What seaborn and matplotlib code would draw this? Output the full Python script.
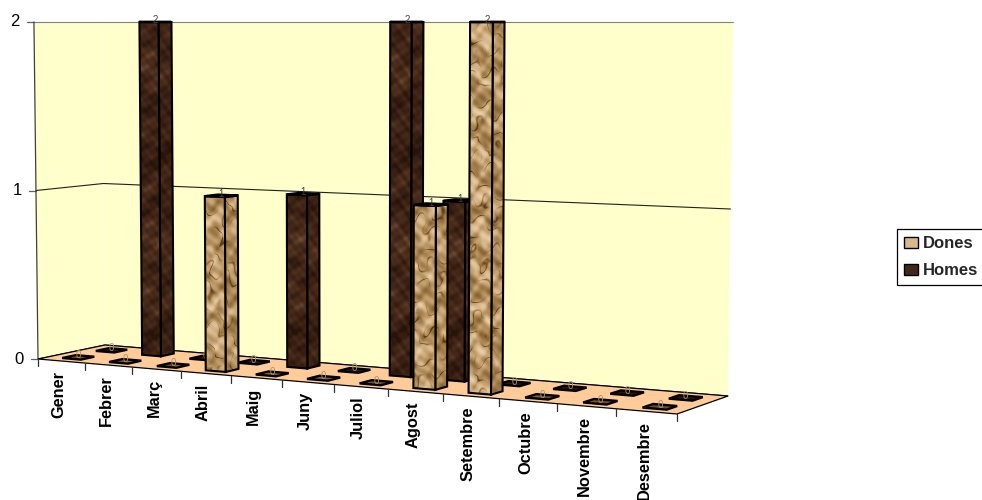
import numpy as np
import pandas as pd
import matplotlib
matplotlib.use("Agg")
import matplotlib.pyplot as plt
from matplotlib.patches import Patch, Polygon
import seaborn as sns

months = ["Gener", "Febrer", "Març", "Abril", "Maig", "Juny", "Juliol", "Agost",
          "Setembre", "Octubre", "Novembre", "Desembre"]
dones = [0, 0, 0, 1, 0, 0, 0, 1, 2, 0, 0, 0]
homes = [0, 2, 0, 0, 1, 0, 2, 1, 0, 0, 0, 0]
y_ticks = [0, 1, 2]

sns.set_theme(style="white")
plt.rcParams["font.family"] = ["Liberation Sans", "DejaVu Sans"]

W, H = 982, 500
fig = plt.figure(figsize=(W / 100, H / 100), dpi=100)
ax = fig.add_axes([0, 0, 1, 1])
ax.set_xlim(0, W)
ax.set_ylim(H, 0)
ax.set_autoscale_on(False)
ax.axis("off")

# floor corners in the picture: front left, front right, back right, back left
floor_px = np.array([[38, 359], [677, 414], [728, 396], [105, 345]], dtype=float)
floor_uv = np.array([[0, 0], [1, 0], [1, 1], [0, 1]], dtype=float)
TOP_Y = 22
ZMAX = 2

a = []
b = []
for (u, w), (x, y) in zip(floor_uv, floor_px):
    a.append([u, w, 1, 0, 0, 0, -u * x, -w * x])
    a.append([0, 0, 0, u, w, 1, -u * y, -w * y])
    b += [x, y]
h = np.append(np.linalg.solve(np.array(a), np.array(b)), 1).reshape(3, 3)


def project(u, w, z=0):
    u = u - 0.004 * np.sin(np.pi * u)
    d = h @ np.array([u, w, 1.0])
    x, y = d[0] / d[2], d[1] / d[2]
    # verticals lean outwards a little, the top of the wall is flat
    x = x + 0.013 * (x - 350) * z / ZMAX
    y = y + (TOP_Y - y) * z / ZMAX
    return x, y


cmap_dones = sns.blend_palette(["#5a3c1c", "#8c6838", "#b38e5c", "#d6b68a", "#eed6b2"], as_cmap=True)
cmap_homes = sns.blend_palette(["#26130a", "#3b2114", "#50301e", "#6e4e36"], as_cmap=True)


def texture(x0, x1, y0, y1, kind):
    xs = np.arange(np.floor(x0), np.ceil(x1) + 1)
    ys = np.arange(np.floor(y0), np.ceil(y1) + 1)
    xx, yy = np.meshgrid(xs, ys)
    if kind == "Dones":
        # crumpled paper: soft facets and short dark creases
        p = 0.16 * yy - 0.10 * xx + 0.9 * np.sin(0.31 * xx + 0.07 * yy) + 0.7 * np.sin(0.19 * yy - 0.23 * xx + 1.3)
        q = 0.29 * yy + 0.21 * xx + 0.8 * np.sin(0.13 * yy + 0.37 * xx)
        mask = 0.5 + 0.5 * np.sin(0.07 * yy + 0.3 * xx + np.sin(0.17 * yy))
        crease = np.clip(0.4 - np.abs(np.sin(p + 0.6 * np.sin(q))), 0, 1) / 0.4
        t = (0.58 + 0.16 * np.sin(p) + 0.12 * np.sin(q) + 0.08 * np.sin(0.53 * yy - 0.41 * xx)
             - 0.5 * crease * mask)
    else:
        t = (0.42 + 0.13 * np.sin(0.11 * yy + 0.9 * np.sin(0.13 * xx + 0.03 * yy))
             + 0.12 * np.sin(0.23 * xx + 0.19 * yy)
             + 0.12 * np.sin(0.37 * yy - 0.29 * xx + np.sin(0.21 * xx))
             + 0.08 * np.sin(0.67 * yy + 0.43 * xx)
             + 0.06 * np.sin(0.83 * xx - 0.59 * yy)
             + 0.1 * np.sin(0.031 * yy))
    return np.clip(t, 0, 1)


def textured_face(pts, kind, shade, zorder, lw=1.5):
    pts = np.array(pts)
    cmap = cmap_dones if kind == "Dones" else cmap_homes
    x0, y0 = pts.min(axis=0)
    x1, y1 = pts.max(axis=0)
    im = ax.imshow(texture(x0, x1, y0, y1, kind) * shade, cmap=cmap, vmin=0, vmax=1,
                   extent=(np.floor(x0) - 0.5, np.ceil(x1) + 0.5, np.ceil(y1) + 0.5, np.floor(y0) - 0.5),
                   origin="upper", aspect="auto", interpolation="bilinear", zorder=zorder)
    poly = Polygon(pts, closed=True, facecolor="none", edgecolor="black", linewidth=lw,
                   joinstyle="miter", zorder=zorder + 0.1)
    ax.add_patch(poly)
    im.set_clip_path(poly)


# walls and floor
back = [project(0, 1, 0), project(1, 1, 0), project(1, 1, 2), project(0, 1, 2)]
side = [project(0, 0, 0), project(0, 1, 0), project(0, 1, 2), project(0, 0, 2)]
ax.add_patch(Polygon(back, closed=True, facecolor="#FFFFCC", edgecolor="none", zorder=1))
ax.add_patch(Polygon(side, closed=True, facecolor="#FFFFCC", edgecolor="none", zorder=1))
ax.plot(*zip(project(0, 1, 0), project(0, 1, 2)), color="#FFFFE0", lw=0.6, zorder=1.1)
ax.add_patch(Polygon([project(0, 0), project(1, 0), project(1, 1), project(0, 1)], closed=True,
                     facecolor="#FFCC99", edgecolor="black", linewidth=0.9, zorder=2))

# gridlines
for z in y_ticks:
    pts = [project(0, 0, z), project(0, 1, z), project(1, 1, z)]
    color = "#808080" if z == ZMAX else "#202020"
    grid = pd.DataFrame(pts, columns=["x", "y"])
    sns.lineplot(data=grid, x="x", y="y", sort=False, estimator=None, color=color, lw=0.8,
                 legend=False, ax=ax, zorder=1.5)
    x, y = project(0, 0, z)
    ax.plot([x - 7, x], [y, y], color="#606060", lw=0.9, zorder=1.5)
    ax.text(x - 14, y, str(z), ha="right", va="center", fontsize=12, color="black")
ax.plot(*zip(project(0, 0, 0), project(0, 0, 2)), color="#404040", lw=0.9, zorder=1.6)
ax.set_xlabel("")
ax.set_ylabel("")
ax.axis("off")

# month ticks and labels on the front edge
for i in range(13):
    x, y = project(i / 12, 0)
    ax.plot([x, x], [y, y + 7], color="#303030", lw=0.9, zorder=2)
for i, m in enumerate(months):
    x, y = project((i + 0.5) / 12, 0)
    ax.text(x - 2.5, y + 10, m, rotation=90, ha="center", va="top", fontsize=11.8,
            fontweight="bold", color="black", zorder=3)

# bars, back row first, left to right
DU = 0.2 / 12
DW = 0.1
zo = 5
for kind, vals, w in [("Homes", homes, 0.75), ("Dones", dones, 0.25)]:
    for i, v in enumerate(vals):
        uc = (i + 0.5) / 12
        fl = (uc - DU, w - DW)
        fr = (uc + DU, w - DW)
        br = (uc + DU, w + DW)
        bl = (uc - DU, w + DW)
        if v > 0:
            textured_face([project(*fr, 0), project(*br, 0), project(*br, v), project(*fr, v)], kind, 0.88, zo)
            textured_face([project(*fl, 0), project(*fr, 0), project(*fr, v), project(*fl, v)], kind, 1.0, zo + 1)
        textured_face([project(*fl, v), project(*fr, v), project(*br, v), project(*bl, v)], kind, 0.3, zo + 2, lw=1.7)
        lx, ly = project(uc, w, v)
        lab_color = "#a89070" if v == 0 else "#404040"
        ax.text(lx, ly - 2, str(v), ha="center", va="center", fontsize=7, color=lab_color, zorder=zo + 3)
        zo += 4

handles = [Patch(facecolor="#d9b88c", edgecolor="black", label="Dones"),
           Patch(facecolor="#43281a", edgecolor="black", label="Homes")]
leg = ax.legend(handles=handles, loc="upper left", bbox_to_anchor=(897 / W, 1 - 229 / H),
                frameon=True, fancybox=False, framealpha=1, edgecolor="black",
                prop={"family": "Liberation Sans", "weight": "bold", "size": 12},
                handlelength=0.84, handleheight=0.66, handletextpad=0.3, labelspacing=0.72,
                borderpad=0.42, borderaxespad=0)
leg.get_frame().set_linewidth(0.9)
leg.set_zorder(200)

fig.savefig("out.png", dpi=100, facecolor="white")
